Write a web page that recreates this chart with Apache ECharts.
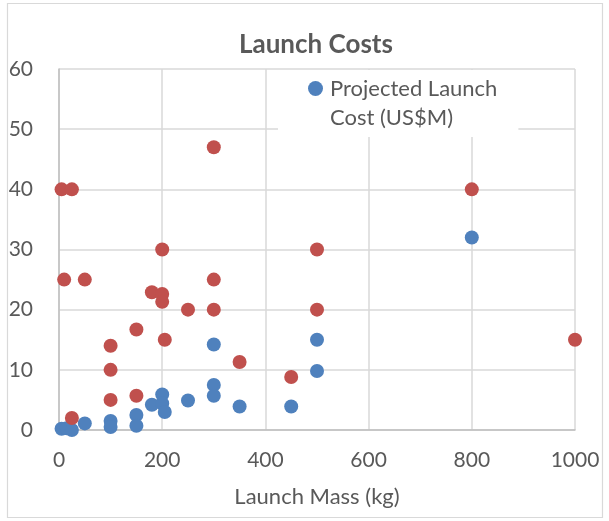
<!DOCTYPE html>
<html><head><meta charset="utf-8">
<script src="https://cdn.jsdelivr.net/npm/echarts@6/dist/echarts.min.js"></script>
<style>html,body{margin:0;padding:0;background:#fff}#c{width:609px;height:521px}</style>
</head><body><div id="c"></div>
<script>
const title = 'Launch Costs';
const xName = 'Launch Mass (kg)';
const xTicks = [0, 200, 400, 600, 800, 1000];
const yTicks = [0, 10, 20, 30, 40, 50, 60];
const projectedName = 'Projected Launch Cost (US$M)';
const projectedMass = [5, 15, 25, 50, 100, 100, 150, 150, 180, 200, 200, 205, 250, 300, 300, 300, 350, 450, 500, 500, 800];
const projectedCost = [0.2, 0.3, 0, 1.1, 1.5, 0.5, 2.5, 0.7, 4.2, 5.9, 4.4, 3.0, 4.9, 14.2, 7.5, 5.7, 3.9, 3.9, 15, 9.8, 32];
const actualName = 'Launch Cost (US$M)';
const actualMass = [5, 25, 300, 200, 500, 10, 50, 300, 180, 200, 200, 250, 300, 500, 150, 100, 205, 100, 350, 450, 100, 150, 25, 800, 1000];
const actualCost = [40, 40, 47, 30, 30, 25, 25, 25, 22.9, 22.6, 21.3, 20, 20, 20, 16.7, 14, 15, 10, 11.3, 8.8, 5, 5.7, 2, 40, 15];

const chart = echarts.init(document.getElementById('c'), null, {renderer: 'canvas'});
const font = 'Lato, "Open Sans", sans-serif';
const grey = '#595959';
const blue = '#4F81BD';
const red = '#C0504D';
chart.setOption({
  animation: false,
  textStyle: {fontFamily: font},
  title: {text: title, left: 234, top: 27, textStyle: {fontFamily: font, fontSize: 26, fontWeight: 'bold', color: grey}},
  graphic: [{type: 'rect', shape: {x: 7.5, y: 3.5, width: 595, height: 514}, style: {fill: 'none', stroke: '#d9d9d9', lineWidth: 1.2}, silent: true, z: -10}],
  legend: {
    data: [projectedName], left: 278, top: 70, orient: 'vertical',
    backgroundColor: '#fff', padding: [4, 21, 5, 25], itemWidth: 0, itemHeight: 0, itemGap: 0,
    icon: 'circle',
    formatter: () => '{dot|}{gap|}Projected Launch\n{ind|}Cost (US$M)',
    textStyle: {
      fontFamily: font, fontSize: 22, color: grey, lineHeight: 29,
      rich: {
        dot: {width: 15, height: 15, borderRadius: 7.5, backgroundColor: blue},
        gap: {width: 7},
        ind: {width: 22}
      }
    }
  },
  grid: {left: 59, right: 34, top: 69, bottom: 91},
  xAxis: {
    type: 'value', min: xTicks[0], max: xTicks[xTicks.length - 1], interval: 200,
    name: xName, nameLocation: 'middle', nameGap: 56,
    nameTextStyle: {fontFamily: font, fontSize: 22, color: grey},
    axisLine: {show: true, lineStyle: {color: '#bfbfbf', width: 1.5}},
    axisTick: {show: false},
    axisLabel: {fontFamily: font, fontSize: 21, color: grey, margin: 20, formatter: v => String(v)},
    splitLine: {show: true, lineStyle: {color: '#d9d9d9', width: 1.5}}
  },
  yAxis: {
    type: 'value', min: yTicks[0], max: yTicks[yTicks.length - 1], interval: 10,
    axisLine: {show: true, lineStyle: {color: '#bfbfbf', width: 1.5}},
    axisTick: {show: false},
    axisLabel: {fontFamily: font, fontSize: 21, color: grey, margin: 26},
    splitLine: {show: true, lineStyle: {color: '#d9d9d9', width: 1.5}}
  },
  series: [
    {name: projectedName, type: 'scatter', symbolSize: 14, itemStyle: {color: blue, opacity: 1},
     data: projectedMass.map((m, i) => [m, projectedCost[i]]), z: 2},
    {name: actualName, type: 'scatter', symbolSize: 14, itemStyle: {color: red, opacity: 1},
     data: actualMass.map((m, i) => [m, actualCost[i]]), z: 3}
  ]
});
</script></body></html>
